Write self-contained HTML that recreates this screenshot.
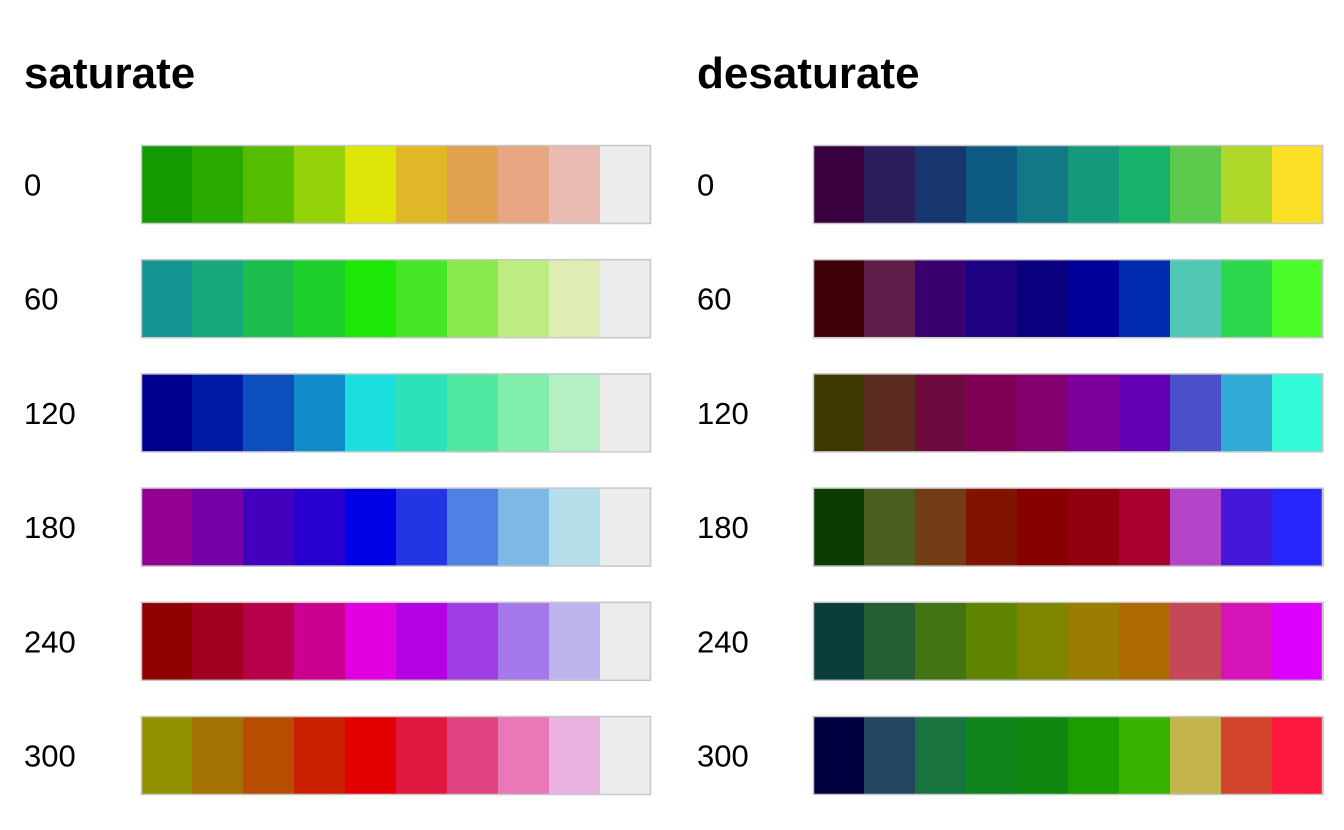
<!DOCTYPE html>
<html><head><meta charset="utf-8"><style>
body{margin:0;width:1344px;height:830px;background:#fff;font-family:"Liberation Sans",Arial,sans-serif;overflow:hidden}
svg{display:block}
</style></head><body>
<svg id="chart" width="1344" height="830"></svg>
<script>
const panelTitles = ["saturate", "desaturate"];
const rowLabels = ["0", "60", "120", "180", "240", "300"];
const saturateColors = [
["#129a00","#2aaa00","#55bd00","#92d206","#dfe507","#e0b827","#e2a14e","#e6a682","#e9bbb2","#ececec"],
["#159494","#16a87b","#1bbd4f","#1ccf29","#1ce808","#45e628","#88ea4e","#bdec80","#dfecb4","#ececec"],
["#000090","#001aa6","#0c4ebc","#128dcc","#1ce0e0","#2ee2b8","#50e8a0","#80eeaa","#b4f0c4","#ececec"],
["#920092","#7400aa","#4200be","#2800d0","#0000e4","#2436e4","#4e80e6","#7eb8e6","#b4dfea","#ececec"],
["#900000","#a20020","#b8004a","#cc0090","#e000e0","#b400e2","#a03ce4","#a478e8","#bcb4ec","#ececec"],
["#929200","#a37200","#b84c00","#cb2000","#e20000","#e01840","#e04480","#e878b8","#eab2e0","#ececec"]
];
const desaturateColors = [
["#3a0140","#2e1d5c","#173670","#0d5a82","#137886","#14997d","#17b26a","#5ccb4d","#b0d82b","#fbdf24"],
["#400008","#5c1e48","#3a0070","#1e0082","#0a007e","#00009a","#002ab0","#50c8b4","#2ed84c","#4cfc28"],
["#3c3800","#5c2c20","#6e0a3e","#800058","#820070","#7e009a","#6400b4","#4c50c8","#32aad6","#32fcd8"],
["#0c3c00","#4a5e20","#723c14","#801400","#860000","#920010","#a80030","#b444c8","#4418d8","#2826fc"],
["#0a3c3c","#245c34","#427414","#5e8400","#7e8600","#9a7c00","#ac6a00","#c44858","#d614b8","#dc00fc"],
["#000040","#22465e","#1a7440","#12841e","#108810","#1c9c00","#38b400","#c4b44c","#d2442c","#fc183c"]
];
const ns="http://www.w3.org/2000/svg";
const svg=document.getElementById('chart');
const panels=[{x0:24,bx:141,colors:saturateColors},{x0:697,bx:813,colors:desaturateColors}];
const bw=510,bh=79,rowTop=145,rowStep=114.2;
function mk(t,a){const e=document.createElementNS(ns,t);for(const k in a)e.setAttribute(k,a[k]);svg.appendChild(e);return e;}
panels.forEach((p,pi)=>{
  const t=mk('text',{x:p.x0,y:88,'font-size':44,'font-weight':'bold',fill:'#000'});
  t.textContent=panelTitles[pi];
  
  
  p.colors.forEach((row,ri)=>{
    const y=rowTop+ri*rowStep;
    const l=mk('text',{x:p.x0,y:y+bh/2+11,'font-size':31,fill:'#000'});
    l.textContent=rowLabels[ri];
    
    
    const sw=bw/row.length;
    row.forEach((c,ci)=>{
      const r=mk('rect',{x:p.bx+ci*sw,y:y,width:sw+0.5,height:bh,fill:c});
      
      
    });
    const b=mk('rect',{x:p.bx+0.5,y:y+0.5,width:bw-1,height:bh-1,fill:'none',stroke:'#c8c8c8','stroke-width':1.5});
    
    
  });
});
</script>
</body></html>
